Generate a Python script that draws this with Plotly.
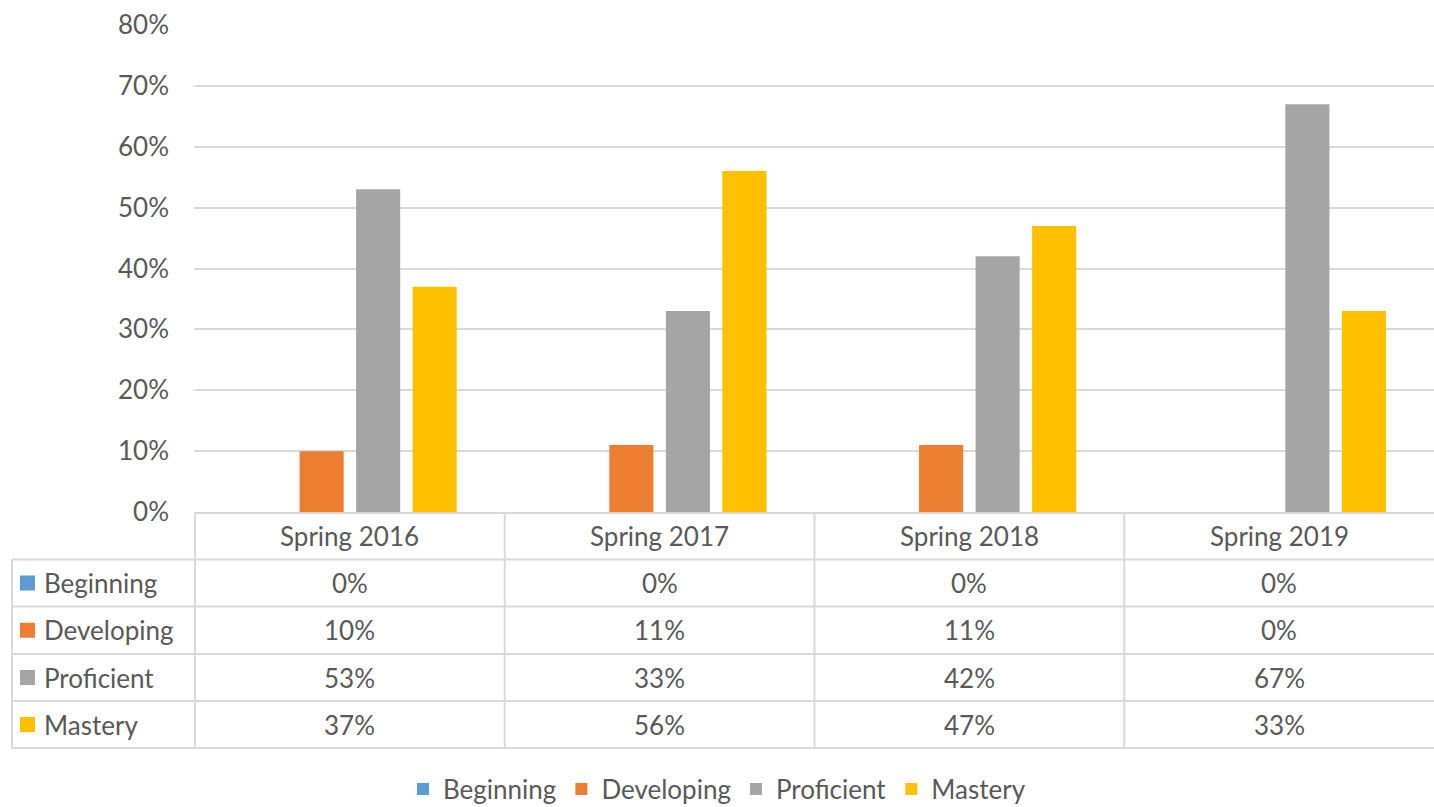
import plotly.graph_objects as go

# data
terms = ["Spring 2016", "Spring 2017", "Spring 2018", "Spring 2019"]
levels = ["Beginning", "Developing", "Proficient", "Mastery"]
beginning = [0.00, 0.00, 0.00, 0.00]
developing = [0.10, 0.11, 0.11, 0.00]
proficient = [0.53, 0.33, 0.42, 0.67]
mastery = [0.37, 0.56, 0.47, 0.33]
y_ticks = [0, 0.1, 0.2, 0.3, 0.4, 0.5, 0.6, 0.7, 0.8]

COLORS = {
    "Beginning": "#5B9BD5",
    "Developing": "#ED7D31",
    "Proficient": "#A5A5A5",
    "Mastery": "#FFC000",
}
TEXT = "#595959"
GRID = "#D9D9D9"
FONT = "Lato"
FS = 26

W, H = 1434, 807
L, R, T, B = 194, 1434, 25, 512   # plot area in pixels


def px(x):
    return (x - L) / (R - L)


def py(y):
    return (B - y) / (B - T)


series = dict(zip(levels, [beginning, developing, proficient, mastery]))

fig = go.Figure()
for name in levels:
    fig.add_trace(go.Bar(
        x=terms, y=series[name], name=name,
        marker=dict(color=COLORS[name], line=dict(width=0)),
        hovertemplate="%{x}<br>" + name + ": %{y:.0%}<extra></extra>",
    ))

# data table under the chart
row_edges = [512, 559.5, 606.5, 654, 701, 748]
shapes = []
# horizontal lines of the body rows
for yy in row_edges[1:]:
    shapes.append(dict(type="line", xref="paper", yref="paper",
                       x0=px(12), x1=1.02, y0=py(yy), y1=py(yy),
                       line=dict(color=GRID, width=2)))
# left border of the label column
shapes.append(dict(type="line", xref="paper", yref="paper",
                   x0=px(12), x1=px(12), y0=py(row_edges[1]), y1=py(row_edges[-1]),
                   line=dict(color=GRID, width=2)))
# column borders
for i in range(len(terms)):
    shapes.append(dict(type="line", xref="x", yref="paper",
                       x0=i - 0.5, x1=i - 0.5, y0=py(row_edges[0]), y1=py(row_edges[-1]),
                       line=dict(color=GRID, width=2)))

annotations = []
for t in terms:
    annotations.append(dict(x=t, xref="x", y=py((row_edges[0] + row_edges[1]) / 2), yref="paper",
                            yanchor="middle", text=t, showarrow=False,
                            font=dict(size=FS, color=TEXT, family=FONT)))

for r, name in enumerate(levels):
    yc = (row_edges[r + 1] + row_edges[r + 2]) / 2
    shapes.append(dict(type="rect", xref="paper", yref="paper",
                       x0=px(20), x1=px(35), y0=py(yc - 7.5), y1=py(yc + 7.5),
                       fillcolor=COLORS[name], line=dict(width=0)))
    annotations.append(dict(x=px(42), xref="paper", xanchor="left", y=py(yc), yref="paper",
                            yanchor="middle", text=name, showarrow=False,
                            font=dict(size=FS, color=TEXT, family=FONT)))
    for t, v in zip(terms, series[name]):
        annotations.append(dict(x=t, xref="x", y=py(yc), yref="paper", yanchor="middle",
                                text=f"{v:.0%}", showarrow=False,
                                font=dict(size=FS, color=TEXT, family=FONT)))

fig.update_layout(
    width=W, height=H,
    margin=dict(l=L, r=W - R, t=T, b=H - B),
    paper_bgcolor="white",
    plot_bgcolor="white",
    barmode="group",
    bargap=0.27,
    bargroupgap=0.22,
    font=dict(family=FONT, size=FS, color=TEXT),
    xaxis=dict(showticklabels=False, showgrid=False, zeroline=False,
               showline=True, linecolor=GRID, linewidth=2, ticks=""),
    yaxis=dict(range=[0, 0.8], tickvals=y_ticks, tickformat=".0%",
               showgrid=True, gridcolor=GRID, gridwidth=2, zeroline=False,
               showline=False, ticks="", ticklabelstandoff=24,
               tickfont=dict(size=FS, color=TEXT, family=FONT)),
    legend=dict(orientation="h", xref="container", yref="container",
                x=0.5, xanchor="center", y=1 - 789 / H, yanchor="middle",
                font=dict(size=FS, color=TEXT, family=FONT),
                itemwidth=30, tracegroupgap=0, traceorder="normal"),
    shapes=shapes,
    annotations=annotations,
)

fig.write_html("out.html", config={"displayModeBar": False},
               post_script="document.body.style.margin='0';document.body.style.overflow='hidden';")
